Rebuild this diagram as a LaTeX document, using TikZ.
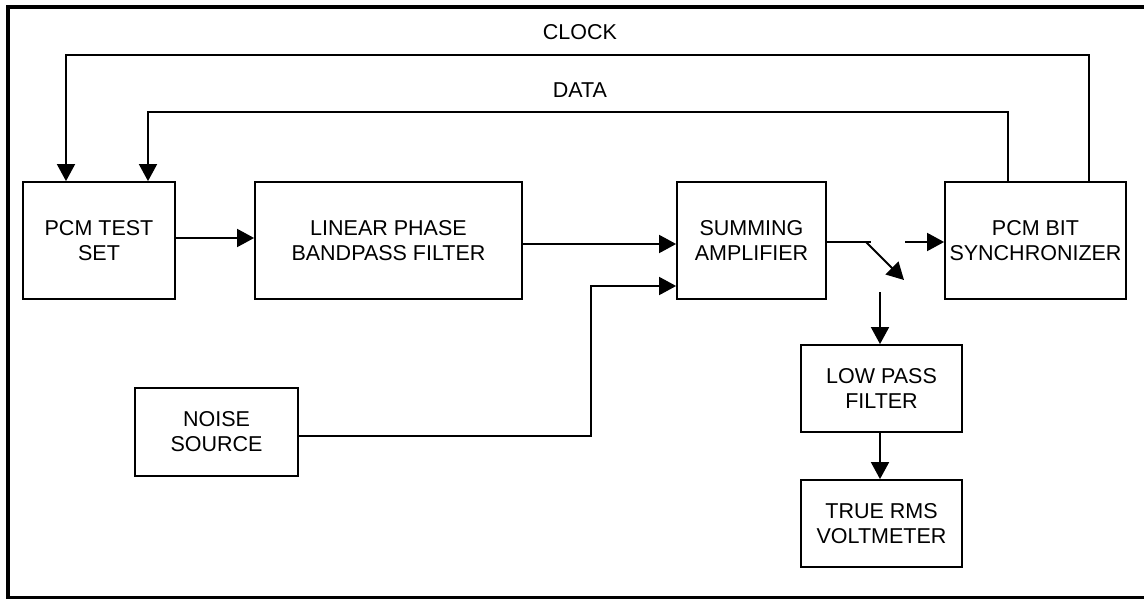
\documentclass[tikz,border=0pt]{standalone}
\usepackage{fontspec}
\setmainfont{Liberation Sans}
\usetikzlibrary{arrows.meta}
\usetikzlibrary{positioning}
\tikzset{
  block/.style={draw,line width=1.8pt,inner sep=0pt,align=center,
    minimum width=#1,font=\fontsize{21.5}{25}\selectfont},
  tall/.style={minimum height=117pt},
  short/.style={minimum height=87pt},
  wire/.style={line width=1.8pt},
  arw/.style={wire,-{Triangle[length=17pt,width=18pt]}},
  lbl/.style={font=\fontsize{21.5}{25}\selectfont}
}
\begin{document}
\begin{tikzpicture}[x=1pt,y=-1pt]
\useasboundingbox (0,0) rectangle (1144,599);
\draw[line width=4pt] (7.5,7) rectangle (1152,598);
\node (pcm) at (99,240.5)[block=152pt,tall] {PCM TEST\\SET};
\node (bpf) at (388.5,240.5)[block=267pt,tall] {LINEAR PHASE\\BANDPASS FILTER};
\node (sum) at (751.5,240.5)[block=149pt,tall] {SUMMING\\AMPLIFIER};
\node (sync) at (1035.5,240.5)[block=181pt,tall] {PCM BIT\\SYNCHRONIZER};
\node (noise) at (216.5,432)[block=163pt,minimum height=88pt] {NOISE\\SOURCE};
\node (lpf) at (881.5,388.5)[block=161pt,short] {LOW PASS\\FILTER};
\node (rms) at (881.5,523.5)[block=161pt,short] {TRUE RMS\\VOLTMETER};
\node (clock) at (580,32)[lbl] {CLOCK};
\node (data) at (580,90)[lbl] {DATA};
% switch
\coordinate (sw1) at (871,242);
\coordinate (sw2) at (866,242);
\coordinate (sw3) at (904,280);
\coordinate (sw4) at (905,242);
\coordinate (sw5) at (880,292);
\coordinate (nz) at (591,436);
\draw[arw] (pcm.east |- 0,238) -- (bpf.west |- 0,238);
\draw[arw] (bpf.east |- 0,244) -- (sum.west |- 0,244);
\draw[arw] (noise.east |- nz) -- (nz) -- (591,286) -- (sum.west |- 0,286);
\draw[wire] (sum.east |- sw1) -- (sw1);
\draw[arw] (sw2) -- (sw3);
\draw[arw] (sw4) -- (sync.west |- sw4);
\draw[arw] (sw5) -- (lpf.north -| sw5);
\draw[arw] (lpf.south -| sw5) -- (rms.north -| sw5);
% feedback
\draw[arw] (sync.north -| 1089,0) -- (1089,55) -- (66,55) -- (pcm.north -| 66,0);
\draw[arw] (sync.north -| 1008,0) -- (1008,112) -- (148,112) -- (pcm.north -| 148,0);
\end{tikzpicture}
\end{document}
